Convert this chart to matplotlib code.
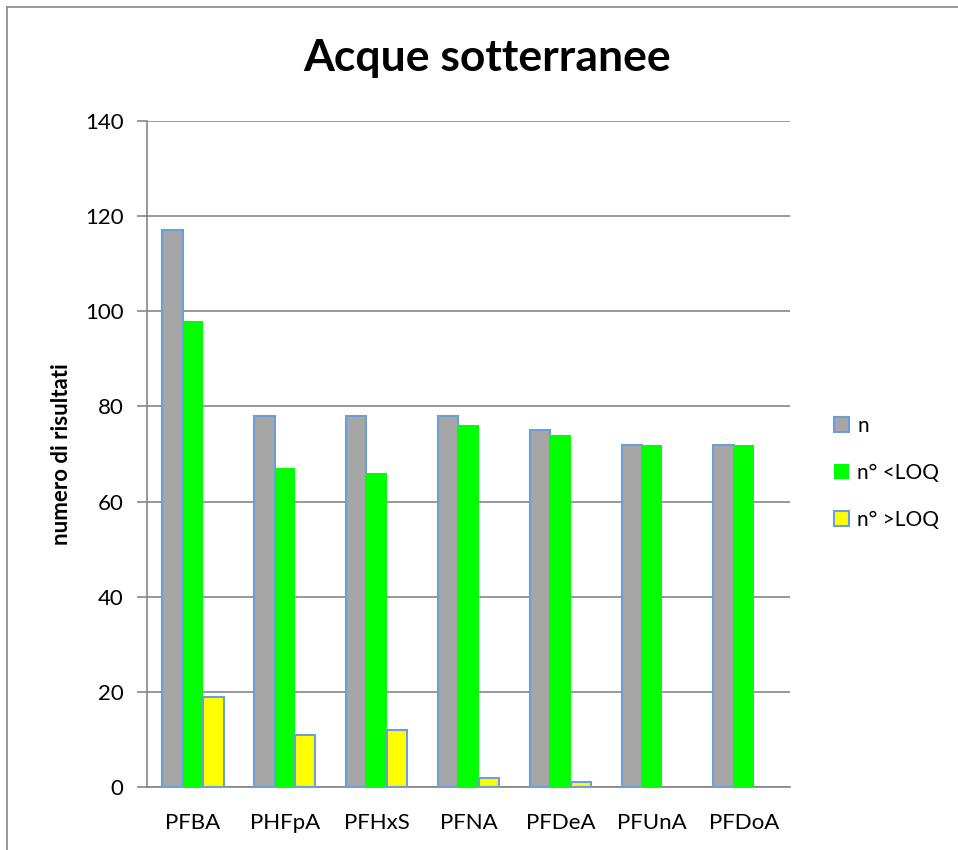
import matplotlib
matplotlib.use('Agg')
import matplotlib.pyplot as plt
from matplotlib.lines import Line2D
import numpy as np

# data
categories = ['PFBA', 'PHFpA', 'PFHxS', 'PFNA', 'PFDeA', 'PFUnA', 'PFDoA']
n_tot = [117, 78, 78, 78, 75, 72, 72]
n_below = [98, 67, 66, 76, 74, 72, 72]
n_above = [19, 11, 12, 2, 1, 0, 0]
series_names = ['n', 'n° <LOQ', 'n° >LOQ']
yticks = [0, 20, 40, 60, 80, 100, 120, 140]

plt.rcParams['font.family'] = ['Lato', 'DejaVu Sans']

fig = plt.figure(figsize=(9.58, 8.5), dpi=100)
ax = fig.add_axes([0.1534, 0.0741, 0.6712, 0.7835])

edge = '#6A9FD8'
bw = 1 / 4.5
x = np.arange(len(categories))
ax.bar(x - bw, n_tot, bw, color='#A6A6A6', edgecolor=edge, linewidth=1.5, label=series_names[0], zorder=3)
ax.bar(x, n_below, bw, color='#00FF00', edgecolor='none', label=series_names[1], zorder=3)
above_vals = [v if v > 0 else np.nan for v in n_above]
ax.bar(x + bw, above_vals, bw, color='#FFFF00', edgecolor=edge, linewidth=1.5, label=series_names[2], zorder=3)

ax.set_xlim(-0.5, len(categories) - 0.5)
ax.set_ylim(0, 140)
ax.set_yticks(yticks)
ax.set_xticks(x)
ax.set_xticklabels(categories)
ax.tick_params(axis='y', labelsize=16, length=7, color='#868686', width=1.2, pad=10)
ax.tick_params(axis='x', labelsize=16, length=0, pad=19)
ax.grid(axis='y', color='#868686', linewidth=1.2, zorder=0)
for s in ['top', 'right']:
    ax.spines[s].set_visible(False)
ax.spines['left'].set_color('#868686')
ax.spines['left'].set_linewidth(1.2)
ax.spines['bottom'].set_color('#868686')
ax.spines['bottom'].set_linewidth(1.2)

ax.set_ylabel('numero di risultati', fontsize=16, fontweight='bold', labelpad=9)
fig.text(0.508, 0.932, 'Acque sotterranee', fontsize=32, fontweight='bold', ha='center', va='center')

leg = ax.legend(loc='center left', bbox_to_anchor=(1.04, 0.472), frameon=False,
                fontsize=15, handlelength=0.7, handleheight=0.7, handletextpad=0.4,
                labelspacing=1.3)

# outer chart frame (cut off at right and bottom)
fig.add_artist(Line2D([7 / 958, 1], [1 - 7 / 850, 1 - 7 / 850], color='#868686', lw=1.2))
fig.add_artist(Line2D([7 / 958, 7 / 958], [0, 1 - 7 / 850], color='#868686', lw=1.2))

fig.savefig('out.png', dpi=100)
